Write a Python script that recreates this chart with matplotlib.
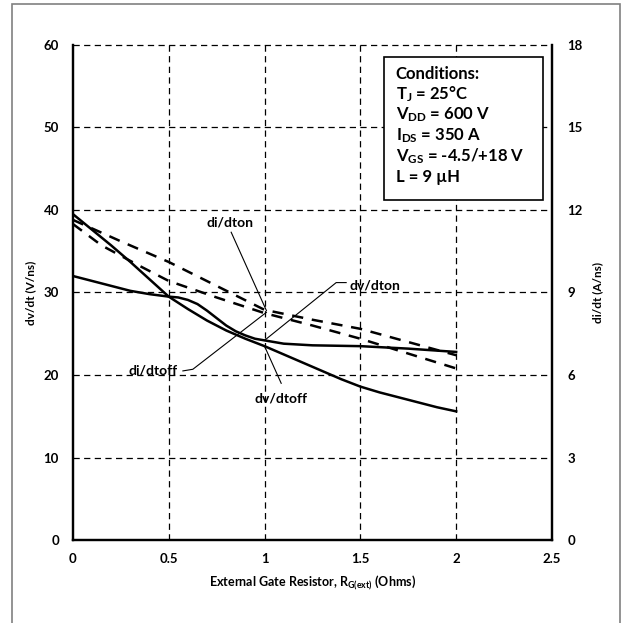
import matplotlib
matplotlib.use('Agg')
import matplotlib.pyplot as plt
from matplotlib.patches import Rectangle

plt.rcParams['font.family'] = ['Lato', 'DejaVu Sans']
plt.rcParams['font.weight'] = 'bold'
plt.rcParams['axes.labelweight'] = 'bold'
plt.rcParams['mathtext.fontset'] = 'custom'
plt.rcParams['mathtext.rm'] = 'Lato:bold'
plt.rcParams['mathtext.it'] = 'Lato:bold'
plt.rcParams['mathtext.bf'] = 'Lato:bold'

# dv/dt curves (left axis, V/ns)
x_dvoff = [0, 0.1, 0.2, 0.3, 0.4, 0.5, 0.6, 0.7, 0.8, 0.9, 1.0,
           1.1, 1.2, 1.3, 1.4, 1.5, 1.6, 1.7, 1.8, 1.9, 2.0]
dv_off = [39.5, 37.6, 35.7, 33.7, 31.6, 29.5, 28.0, 26.6, 25.4, 24.4, 23.5,
          22.5, 21.5, 20.5, 19.5, 18.6, 17.9, 17.3, 16.7, 16.1, 15.6]

x_dvon = [0, 0.1, 0.2, 0.3, 0.4, 0.5, 0.55, 0.6, 0.65, 0.7, 0.75, 0.8, 0.85,
          0.9, 0.95, 1.0, 1.1, 1.25, 1.5, 1.75, 2.0]
dv_on = [32.0, 31.4, 30.8, 30.2, 29.8, 29.5, 29.4, 29.1, 28.6, 27.8, 26.9, 26.0, 25.3,
         24.8, 24.4, 24.2, 23.8, 23.6, 23.5, 23.2, 22.8]

# di/dt curves (right axis, A/ns)
x_dion = [0, 0.25, 0.5, 0.75, 1.0, 1.25, 1.5, 1.75, 2.0]
di_on = [11.64, 10.86, 10.11, 9.24, 8.37, 8.01, 7.68, 7.2, 6.72]

x_dioff = [0, 0.15, 0.35, 0.5, 0.75, 1.0, 1.25, 1.5, 1.75, 2.0]
di_off = [11.49, 10.71, 9.96, 9.42, 8.82, 8.25, 7.8, 7.32, 6.78, 6.24]

conditions = ['Conditions:',
              r'T$_{\mathrm{J}}$ = 25°C',
              r'V$_{\mathrm{DD}}$ = 600 V',
              r'I$_{\mathrm{DS}}$ = 350 A',
              r'V$_{\mathrm{GS}}$ = -4.5/+18 V',
              'L = 9 µH']

fig = plt.figure(figsize=(6.23, 6.23), dpi=100)
ax1 = fig.add_axes([0.117, 0.133, 0.769, 0.795])
ax2 = ax1.twinx()

# outer frame
fig.patches.append(Rectangle((0.0193, -0.01), 0.976, 1.0035, transform=fig.transFigure,
                             fill=False, edgecolor='#808080', lw=1.2))

ax1.set_xlim(0, 2.5)
ax1.set_ylim(0, 60)
ax2.set_ylim(0, 18)
ax1.set_xticks([0, 0.5, 1, 1.5, 2, 2.5])
ax1.set_xticklabels(['0', '0.5', '1', '1.5', '2', '2.5'])
ax1.set_yticks(range(0, 61, 10))
ax2.set_yticks(range(0, 19, 3))

for v in [0.5, 1, 1.5, 2]:
    ax1.axvline(v, color='black', lw=0.9, ls=(0, (5, 3.5)), zorder=1)
for v in [10, 20, 30, 40, 50, 60]:
    ax1.axhline(v, color='black', lw=0.9, ls=(0, (5, 3.5)), zorder=1, clip_on=False)

ax1.plot(x_dvoff, dv_off, color='black', lw=1.8, zorder=3)
ax1.plot(x_dvon, dv_on, color='black', lw=1.8, zorder=3)
ax2.plot(x_dion, di_on, color='black', lw=1.8, ls=(0, (4.5, 3.5)))
ax2.plot(x_dioff, di_off, color='black', lw=1.8, ls=(0, (4.5, 3.5)))

for a in (ax1, ax2):
    a.spines['top'].set_visible(False)
    for s in ('left', 'right', 'bottom'):
        a.spines[s].set_linewidth(1.6)
    a.tick_params(length=0, labelsize=9.5)
ax1.tick_params(axis='y', pad=10)
ax1.tick_params(axis='x', pad=9)
ax2.tick_params(axis='y', pad=11)

ax1.set_xlabel(r'External Gate Resistor, R$_{\mathrm{G(ext)}}$ (Ohms)', fontsize=9, labelpad=7)
ax1.set_ylabel('dv/dt (V/ns)', fontsize=8.5, labelpad=5)
ax2.set_ylabel('di/dt (A/ns)', fontsize=8.5, labelpad=7)

# annotations
fs = 10
ax1.text(0.82, 38.5, 'di/dton', fontsize=fs, ha='center', va='center')
ax1.plot([0.826, 1.01], [37.3, 27.8], color='black', lw=0.8)
ax1.text(1.574, 30.9, 'dv/dton', fontsize=fs, ha='center', va='center')
ax1.plot([1.426, 1.374, 1.0], [31.2, 31.2, 24.2], color='black', lw=0.8)
ax1.text(0.417, 20.5, 'di/dtoff', fontsize=fs, ha='center', va='center')
ax1.plot([0.574, 0.626, 1.01], [20.5, 20.7, 27.6], color='black', lw=0.8)
ax1.text(1.087, 17.2, 'dv/dtoff', fontsize=fs, ha='center', va='center')
ax1.plot([1.087, 1.0], [19.0, 23.5], color='black', lw=0.8)

# conditions box
ax1.add_patch(Rectangle((0.649, 0.687), 0.333, 0.289, transform=ax1.transAxes,
                        facecolor='white', edgecolor='black', lw=1.2, zorder=5))
for i, line in enumerate(conditions):
    ax1.text(0.674, 0.942 - i * 0.0418, line, transform=ax1.transAxes, fontsize=12,
             ha='left', va='center', zorder=6)

fig.savefig('out.png', dpi=100)
